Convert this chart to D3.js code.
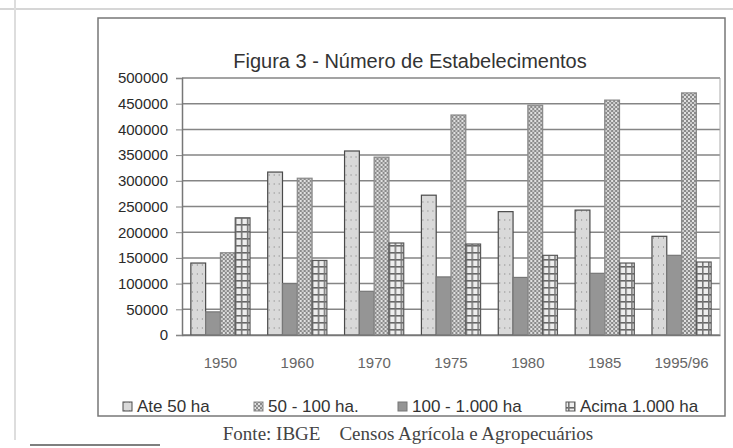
<!DOCTYPE html>
<html><head><meta charset="utf-8">
<script src="https://cdn.jsdelivr.net/npm/d3@7"></script>
<style>body{margin:0;background:#fff}svg{display:block}</style>
</head><body>
<svg id="c" width="733" height="448"></svg>
<script>
const years = ["1950","1960","1970","1975","1980","1985","1995/96"];
const ate50 = [140000, 317000, 358000, 272000, 240000, 243000, 192000];
const de50a100 = [160000, 305000, 346000, 428000, 447000, 457000, 471000];
const de100a1000 = [45000, 100000, 85000, 113000, 112000, 120000, 155000];
const acima1000 = [228000, 145000, 179000, 177000, 155000, 140000, 142000];
const seriesNames = ["Ate 50 ha", "50 - 100 ha.", "100 - 1.000 ha", "Acima 1.000 ha"];
const barOrder = ["Ate 50 ha", "100 - 1.000 ha", "50 - 100 ha.", "Acima 1.000 ha"];
const yTicks = [0,50000,100000,150000,200000,250000,300000,350000,400000,450000,500000];
const title = "Figura 3 - Número de Estabelecimentos";
const source = "Fonte: IBGE    Censos Agrícola e Agropecuários";

const valuesBy = {"Ate 50 ha": ate50, "50 - 100 ha.": de50a100, "100 - 1.000 ha": de100a1000, "Acima 1.000 ha": acima1000};

const svg = d3.select("#c");
const defs = svg.append("defs");
const p1 = defs.append("pattern").attr("id","pCross").attr("width",4).attr("height",4).attr("patternUnits","userSpaceOnUse");
p1.append("rect").attr("width",4).attr("height",4).attr("fill","#8a8a8a");
p1.append("rect").attr("x",0).attr("y",0).attr("width",2).attr("height",2).attr("fill","#e2e2e2");
p1.append("rect").attr("x",2).attr("y",2).attr("width",2).attr("height",2).attr("fill","#cccccc");
const p2 = defs.append("pattern").attr("id","pGrid").attr("width",6).attr("height",7).attr("patternUnits","userSpaceOnUse");
p2.append("rect").attr("width",6).attr("height",7).attr("fill","#eeeeee");
p2.append("rect").attr("x",0).attr("y",0).attr("width",6).attr("height",1.6).attr("fill","#666");
p2.append("rect").attr("x",2).attr("y",0).attr("width",1.6).attr("height",7).attr("fill","#777");
const p3 = defs.append("pattern").attr("id","pLight").attr("width",5).attr("height",9).attr("patternUnits","userSpaceOnUse");
p3.append("rect").attr("width",5).attr("height",9).attr("fill","#d9d9d9");
p3.append("rect").attr("x",1).attr("y",3).attr("width",1).attr("height",2).attr("fill","#a8a8a8");

const fills = {"Ate 50 ha":"url(#pLight)", "50 - 100 ha.":"url(#pCross)", "100 - 1.000 ha":"#959595", "Acima 1.000 ha":"url(#pGrid)"};
const strokes = {"Ate 50 ha":"#4a4a4a", "50 - 100 ha.":"#888", "100 - 1.000 ha":"#777", "Acima 1.000 ha":"#5a5a5a"};

svg.append("line").attr("x1",0).attr("x2",733).attr("y1",9).attr("y2",9).attr("stroke","#c8c8c8").attr("stroke-width",1.5);
svg.append("line").attr("x1",15).attr("x2",15).attr("y1",0).attr("y2",440).attr("stroke","#ddd").attr("stroke-width",2);
svg.append("line").attr("x1",30).attr("x2",160).attr("y1",445).attr("y2",445).attr("stroke","#555").attr("stroke-width",1.5);
svg.append("rect").attr("x",98).attr("y",18).attr("width",627).attr("height",398)
  .attr("fill","none").attr("stroke","#777").attr("stroke-width",1.5);

const L = 182, R = 720, T = 78, B = 335;
const x0 = d3.scaleBand().domain(years).range([L,R]).paddingInner(0.23).paddingOuter(0.115);
const x1 = d3.scaleBand().domain(barOrder).range([0,x0.bandwidth()]);
const y = d3.scaleLinear().domain([0,500000]).range([B,T]);

svg.append("g").selectAll("line").data(yTicks).join("line")
  .attr("x1",L).attr("x2",R).attr("y1",d=>y(d)).attr("y2",d=>y(d))
  .attr("stroke","#858585").attr("stroke-width",1.5);
svg.append("line").attr("x1",R).attr("x2",R).attr("y1",T).attr("y2",B).attr("stroke","#aaa").attr("stroke-width",1);

const ya = svg.append("g").attr("transform",`translate(${L},0)`)
  .call(d3.axisLeft(y).tickValues(yTicks).tickFormat(d3.format("d")).tickSize(6).tickPadding(8));
ya.select(".domain").attr("stroke","#777").attr("stroke-width",1.5);
ya.selectAll(".tick line").attr("stroke","#888");
ya.selectAll("text").attr("font-family","Liberation Sans, Arial, sans-serif").attr("font-size",15).attr("fill","#2a2a2a");

const groups = svg.append("g").selectAll("g").data(years).join("g")
  .attr("transform",d=>`translate(${x0(d)},0)`);
groups.selectAll("rect").data((d,i)=>barOrder.map(k=>({k, v: valuesBy[k][i]}))).join("rect")
  .attr("x",d=>x1(d.k)).attr("width",x1.bandwidth())
  .attr("y",d=>y(d.v)).attr("height",d=>B-y(d.v))
  .attr("fill",d=>fills[d.k]).attr("stroke",d=>strokes[d.k]).attr("stroke-width",1.2);

const xa = svg.append("g").attr("transform",`translate(0,${B})`)
  .call(d3.axisBottom(x0).tickSize(0).tickPadding(22));
xa.select(".domain").attr("stroke","#777").attr("stroke-width",1.5);
xa.selectAll("text").attr("font-family","Liberation Sans, Arial, sans-serif").attr("font-size",15).attr("fill","#666");

svg.append("text").attr("x",410).attr("y",68).attr("text-anchor","middle")
  .attr("font-family","Liberation Sans, Arial, sans-serif").attr("font-size",20).attr("fill","#333").text(title);

const legX = [123, 254, 398, 566];
const leg = svg.append("g").selectAll("g").data(seriesNames).join("g")
  .attr("transform",(d,i)=>`translate(${legX[i]},407)`);
leg.append("rect").attr("x",0).attr("y",-5).attr("width",9).attr("height",9)
  .attr("fill",d=>fills[d]).attr("stroke",d=>strokes[d]).attr("stroke-width",1);
leg.append("text").attr("x",14).attr("y",5)
  .attr("font-family","Liberation Sans, Arial, sans-serif").attr("font-size",17).attr("fill","#333").text(d=>d);

svg.append("text").attr("x",408).attr("y",440).attr("text-anchor","middle")
  .style("white-space","pre")
  .attr("font-family","Liberation Serif, Times New Roman, serif").attr("font-size",19).attr("fill","#444").text(source);
</script>
</body></html>
